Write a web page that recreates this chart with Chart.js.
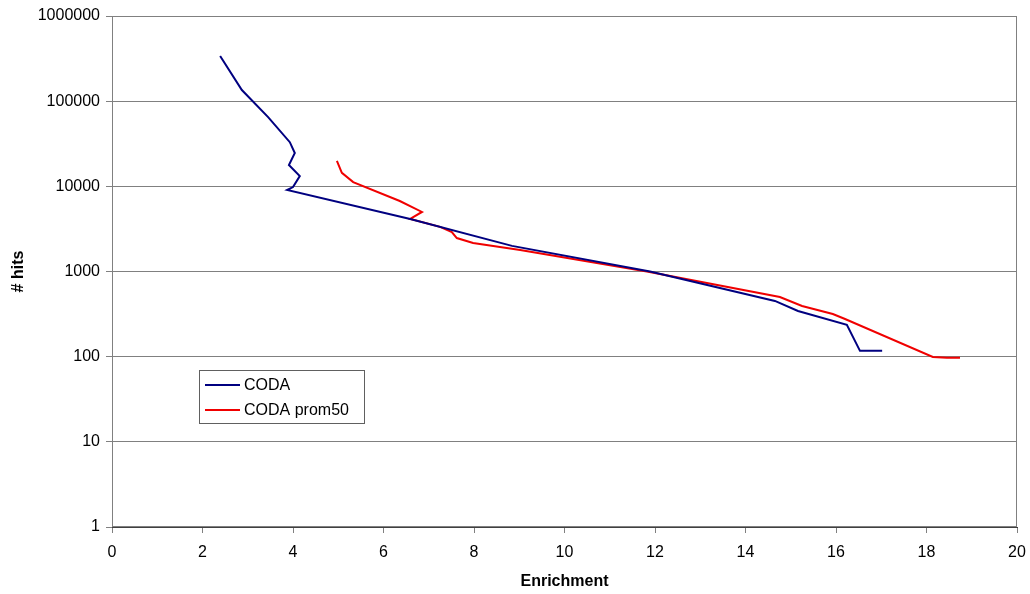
<!DOCTYPE html>
<html>
<head>
<meta charset="utf-8">
<script src="https://cdn.jsdelivr.net/npm/chart.js@4"></script>
<style>
  html, body { margin: 0; padding: 0; background: #fff; }
  #grafico { display: block; }
</style>
</head>
<body>
<canvas id="grafico" width="1030" height="594"></canvas>
<script>
// Dati
const codaX = [2.39, 2.87, 3.45, 3.93, 4.04, 3.91, 4.15, 4.00, 3.87, 6.59, 8.84, 11.89, 14.65, 15.16, 16.24, 16.53, 17.02];
const codaY = [339000, 135000, 65000, 33000, 24600, 17800, 13200, 9800, 9060, 4140, 2000, 1000, 451, 344, 236, 117, 117];

const promX = [4.97, 5.08, 5.33, 6.36, 6.85, 6.59, 7.25, 7.51, 7.62, 7.98, 9.02, 11.82, 14.76, 15.25, 15.93, 16.20, 18.14, 18.45, 18.74];
const promY = [19900, 14400, 11200, 6730, 5000, 4140, 3340, 2910, 2470, 2160, 1790, 1000, 502, 393, 317, 277, 99, 97, 97];

const yTicks = [1, 10, 100, 1000, 10000, 100000, 1000000];

const serieLabels = ['CODA', 'CODA prom50'];
const serieColori = ['#000080', '#f00000'];

const FONT = '"Liberation Sans", Arial, sans-serif';

function punti(xs, ys) {
    return xs.map((x, i) => ({ x: x, y: ys[i] }));
}

// Bordo dell'area del grafico + legenda dentro il grafico
const cornice = {
    id: 'cornice',
    afterDraw(chart) {
        const { ctx, chartArea } = chart;
        ctx.save();
        ctx.strokeStyle = '#808080';
        ctx.lineWidth = 1;
        ctx.strokeRect(chartArea.left + 0.5, chartArea.top + 0.5, chartArea.width - 1, chartArea.height - 1);

        // legenda
        const lx = chartArea.left + 87;
        const ly = chartArea.top + 354;
        ctx.fillStyle = '#fff';
        ctx.fillRect(lx, ly, 165, 53);
        ctx.strokeStyle = '#606060';
        ctx.strokeRect(lx + 0.5, ly + 0.5, 165, 53);
        ctx.font = '16px ' + FONT;
        ctx.textBaseline = 'middle';
        chart.data.datasets.forEach((ds, i) => {
            const ry = ly + 15 + i * 25;
            ctx.strokeStyle = ds.borderColor;
            ctx.lineWidth = 2;
            ctx.beginPath();
            ctx.moveTo(lx + 6, ry);
            ctx.lineTo(lx + 41, ry);
            ctx.stroke();
            ctx.fillStyle = '#000';
            ctx.fillText(ds.label, lx + 45, ry + 1);
        });
        ctx.restore();
    }
};

const ctx = document.getElementById('grafico').getContext('2d');
new Chart(ctx, {
    type: 'line',
    data: {
        datasets: [{
            label: serieLabels[0],
            data: punti(codaX, codaY),
            borderColor: serieColori[0],
            borderWidth: 2,
            pointRadius: 0,
            fill: false,
            tension: 0
        }, {
            label: serieLabels[1],
            data: punti(promX, promY),
            borderColor: serieColori[1],
            borderWidth: 2,
            pointRadius: 0,
            fill: false,
            tension: 0
        }]
    },
    options: {
        responsive: false,
        animation: false,
        layout: {
            padding: { top: 16, right: 13, bottom: 0, left: 0 }
        },
        plugins: {
            legend: { display: false },
            tooltip: { enabled: false }
        },
        scales: {
            x: {
                type: 'linear',
                min: 0,
                max: 20,
                ticks: {
                    stepSize: 2,
                    color: '#000',
                    padding: 10,
                    maxRotation: 0,
                    font: { family: FONT, size: 16 }
                },
                grid: {
                    drawOnChartArea: false,
                    drawTicks: true,
                    tickLength: 6,
                    color: '#808080'
                },
                border: { display: true, color: '#404040', width: 1 },
                title: {
                    display: true,
                    text: 'Enrichment',
                    color: '#000',
                    padding: { top: 0, bottom: 3 },
                    font: { family: FONT, size: 16, weight: 'bold' }
                },
                afterFit(scale) {
                    scale.height = 67;
                    scale.paddingLeft = 0;
                    scale.paddingRight = 0;
                }
            },
            y: {
                type: 'logarithmic',
                min: 1,
                max: 1000000,
                afterBuildTicks(scale) {
                    scale.ticks = yTicks.map(v => ({ value: v }));
                },
                ticks: {
                    color: '#000',
                    padding: 6,
                    font: { family: FONT, size: 16 },
                    callback: v => String(v)
                },
                grid: {
                    color: '#808080',
                    drawTicks: true,
                    tickLength: 6
                },
                border: { display: true, color: '#404040', width: 1 },
                title: {
                    display: true,
                    text: '# hits',
                    color: '#000',
                    padding: { top: 9, bottom: 0 },
                    font: { family: FONT, size: 16, weight: 'bold' }
                },
                afterFit(scale) {
                    scale.width = 112;
                    scale.paddingTop = 0;
                    scale.paddingBottom = 0;
                }
            }
        }
    },
    plugins: [cornice]
});
</script>
</body>
</html>
